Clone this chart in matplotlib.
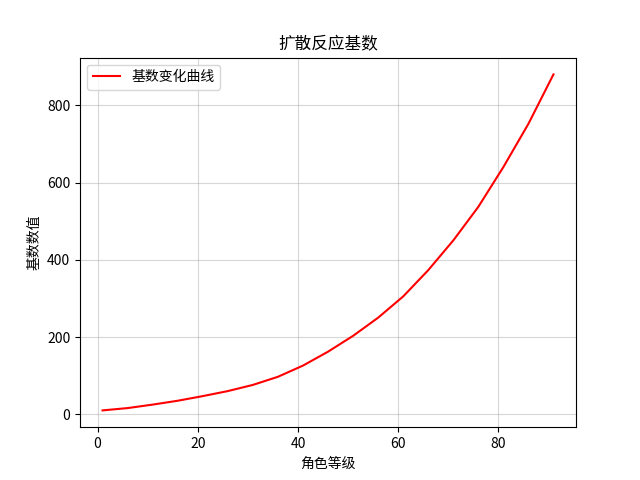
import matplotlib
matplotlib.use("Agg")
import matplotlib.pyplot as plt

plt.rcParams['font.family'] = ['Noto Sans CJK SC', 'DejaVu Sans']
plt.rcParams['axes.unicode_minus'] = False

levels = [1, 6, 11, 16, 21, 26, 31, 36, 41, 46, 51, 56, 61, 66, 71, 76, 81, 86, 91]
values = [10, 16, 25, 35, 47, 60, 76, 97, 126, 162, 203, 250, 305, 373, 450, 537, 640, 752, 880]

fig, ax = plt.subplots(figsize=(6.4, 4.8), dpi=100)
ax.plot(levels, values, color='red', label='基数变化曲线')
ax.set_title('扩散反应基数')
ax.set_xlabel('角色等级')
ax.set_ylabel('基数数值')
ax.grid(True, alpha=0.5)
ax.legend(loc='upper left')
fig.savefig('out.png', dpi=100)
